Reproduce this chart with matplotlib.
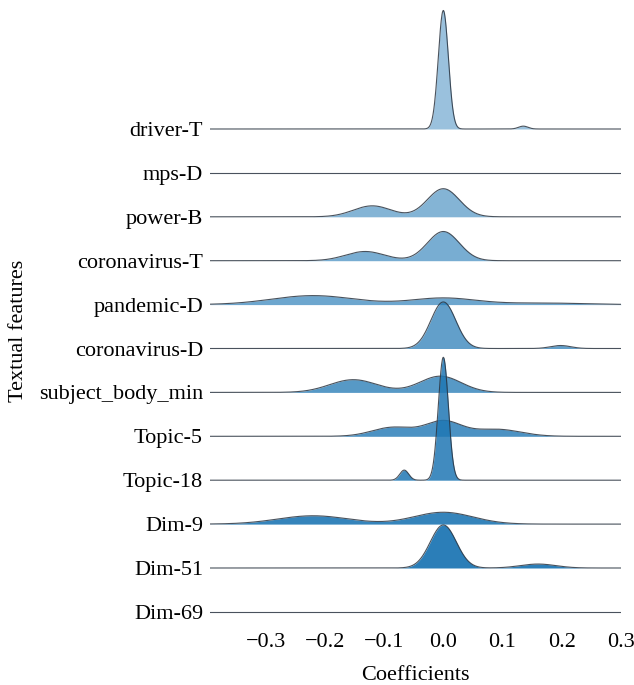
import numpy as np
import matplotlib
matplotlib.use('Agg')
import matplotlib.pyplot as plt

plt.rcParams['font.family'] = ['Liberation Serif', 'DejaVu Serif']

# features, top to bottom
features = ['driver-T', 'mps-D', 'power-B', 'coronavirus-T', 'pandemic-D',
            'coronavirus-D', 'subject_body_min', 'Topic-5', 'Topic-18',
            'Dim-9', 'Dim-51', 'Dim-69']

# density bumps: centre, spread, height (in row units)
centers = [[0.0, 0.135], [], [-0.12, 0.0], [-0.132, 0.0],
           [-0.22, 0.0, 0.17], [0.0, 0.198], [-0.152, -0.005],
           [-0.085, 0.0, 0.09], [-0.066, 0.0], [-0.22, 0.0],
           [0.0, 0.16], []]
spreads = [[0.0085, 0.008], [], [0.032, 0.027], [0.033, 0.027],
           [0.07, 0.055, 0.07], [0.021, 0.017], [0.04, 0.035],
           [0.035, 0.03, 0.04], [0.0075, 0.0085], [0.06, 0.05],
           [0.022, 0.03], []]
heights = [[2.70, 0.065], [], [0.25, 0.64], [0.21, 0.665],
           [0.205, 0.15, 0.035], [1.06, 0.068], [0.29, 0.37],
           [0.205, 0.34, 0.16], [0.23, 2.8], [0.19, 0.27],
           [0.98, 0.09], []]

xticks = [-0.3, -0.2, -0.1, 0.0, 0.1, 0.2, 0.3]
xmin, xmax = -0.394, 0.30

W, H = 634, 685
fig = plt.figure(figsize=(W / 100, H / 100), dpi=100)
ax = fig.add_axes([210 / W, 1 - 615 / H, (621 - 210) / W, (615 - 5) / H])

x = np.linspace(xmin, xmax, 1000)
alphas = np.linspace(0.45, 1.0, len(features))
for i, name in enumerate(features):
    base = -i
    y = np.zeros_like(x)
    for c, s, h in zip(centers[i], spreads[i], heights[i]):
        y += h * np.exp(-0.5 * ((x - c) / s) ** 2)
    ax.fill_between(x, base, base + y, color='#1f77b4', alpha=alphas[i],
                    linewidth=0, zorder=2 * i)
    ax.plot(x, base + y, color='#2a3440', lw=0.8, alpha=0.85, zorder=2 * i + 1)

px_row = 43.9
ax.set_xlim(xmin, xmax)
ax.set_ylim(-(615 - 129) / px_row, (129 - 5) / px_row)
ax.set_yticks([-i for i in range(len(features))])
ax.set_yticklabels(features, fontsize=16)
ax.set_xticks(xticks)
ax.set_xticklabels([f'{t:.1f}'.replace('-', '\u2212') for t in xticks], fontsize=16)
ax.tick_params(axis='both', length=0)
ax.tick_params(axis='y', pad=5)
ax.tick_params(axis='x', pad=13)
for sp in ax.spines.values():
    sp.set_visible(False)
ax.set_xlabel('Coefficients', fontsize=16, labelpad=10)
fig.text(19 / W, 1 - 331 / H, 'Textual features', rotation=90, fontsize=16,
         ha='center', va='center')

fig.savefig('out.png', dpi=100)
